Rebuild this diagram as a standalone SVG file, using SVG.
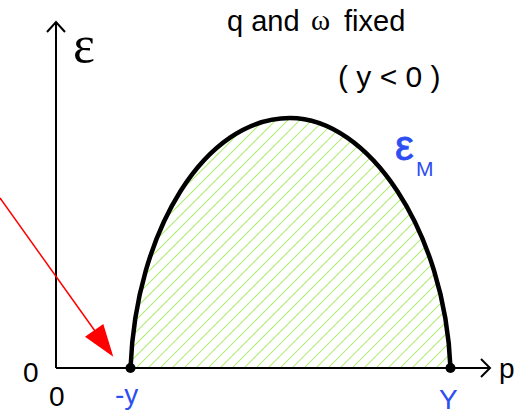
<svg xmlns="http://www.w3.org/2000/svg" width="527" height="414" viewBox="0 0 527 414">
<style>
.sans{font-family:"Liberation Sans",Arial,sans-serif;}
.serif{font-family:"Liberation Serif","Times New Roman",serif;}
.axis{stroke:#000;stroke-width:2;fill:none;}
.blue{fill:#2d4ef2;}
.hatch{stroke:#acec70;stroke-width:1.05;fill:none;}
</style>
<defs>
<clipPath id="area">
<path d="M130.5,368 C136,230 205,118 290,118 C368,118 445,230 450.5,368 Z"/>
</clipPath>
</defs>
<rect width="527" height="414" fill="#fff"/>
<g id="region" clip-path="url(#area)">
<path class="hatch" d="M-116,368 l250,-250 M-104,368 l250,-250 M-92,368 l250,-250 M-80,368 l250,-250 M-68,368 l250,-250 M-56,368 l250,-250 M-44,368 l250,-250 M-32,368 l250,-250 M-20,368 l250,-250 M-8,368 l250,-250 M4,368 l250,-250 M16,368 l250,-250 M28,368 l250,-250 M40,368 l250,-250 M52,368 l250,-250 M64,368 l250,-250 M76,368 l250,-250 M88,368 l250,-250 M100,368 l250,-250 M112,368 l250,-250 M124,368 l250,-250 M136,368 l250,-250 M148,368 l250,-250 M160,368 l250,-250 M172,368 l250,-250 M184,368 l250,-250 M196,368 l250,-250 M208,368 l250,-250 M220,368 l250,-250 M232,368 l250,-250 M244,368 l250,-250 M256,368 l250,-250 M268,368 l250,-250 M280,368 l250,-250 M292,368 l250,-250 M304,368 l250,-250 M316,368 l250,-250 M328,368 l250,-250 M340,368 l250,-250 M352,368 l250,-250 M364,368 l250,-250 M376,368 l250,-250 M388,368 l250,-250 M400,368 l250,-250 M412,368 l250,-250 M424,368 l250,-250 M436,368 l250,-250 M448,368 l250,-250"/>
</g>
<g id="axes">
<path class="axis" d="M56,368 V22 M47,32 L56,22 L65,32"/>
<path class="axis" d="M56,368 H490 M481,359 L490,368 L481,377"/>
</g>
<g id="curve">
<path d="M130.5,368 C136,230 205,118 290,118 C368,118 445,230 450.5,368" fill="none" stroke="#000" stroke-width="4.5"/>
<circle cx="130.5" cy="368" r="5" fill="#000"/>
<circle cx="450.5" cy="368" r="5" fill="#000"/>
</g>
<g id="connectors">
<line x1="0" y1="198" x2="95" y2="331" stroke="#ff0000" stroke-width="1.5"/>
<polygon points="113.3,356.7 85,336.7 103.3,324" fill="#ff0000"/>
</g>
<g id="labels">
<text class="serif" x="73" y="62" font-size="52">ε</text>
<text class="sans" x="227" y="31" font-size="29">q and</text>
<text class="serif" x="311" y="30" font-size="29">ω</text>
<text class="sans" x="344" y="31" font-size="29">fixed</text>
<text class="sans" x="338" y="87" font-size="30" xml:space="preserve">( y &lt; 0 )</text>
<text class="sans blue" x="395" y="160" font-size="42" stroke="#2d4ef2" stroke-width="0.8">ε</text>
<text class="sans blue" x="416" y="176" font-size="21">M</text>
<text class="sans" x="23" y="382" font-size="28">0</text>
<text class="sans" x="49" y="406" font-size="28">0</text>
<text class="sans blue" x="115" y="404" font-size="28">-y</text>
<text class="sans blue" x="439" y="409" font-size="28">Y</text>
<text class="sans" x="499" y="378" font-size="28">p</text>
</g>
</svg>
